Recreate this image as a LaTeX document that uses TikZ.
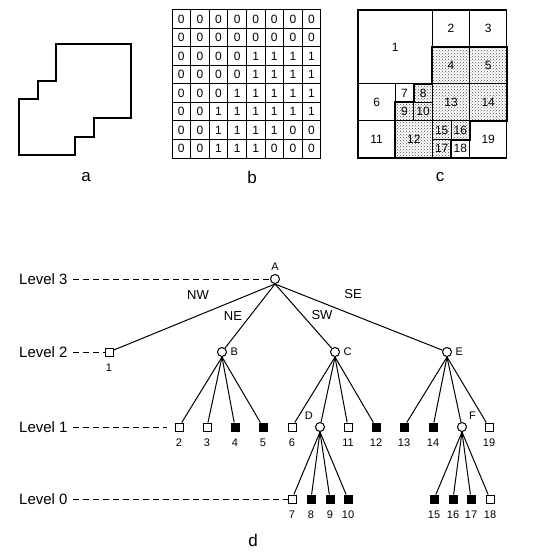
\documentclass[tikz,border=0pt]{standalone}
\usepackage{fontspec}
\setmainfont{Liberation Sans}
\usetikzlibrary{positioning,patterns}

\begin{document}
\begin{tikzpicture}[
    x=1pt, y=-1pt,
    every node/.style={font=\fontsize{11}{12}\selectfont},
    leaf/.style={draw, line width=1pt, minimum size=8pt, inner sep=0pt,
        label={[label distance=3.5pt]below:#1}},
    blackleaf/.style={leaf=#1, fill=black},
    inner/.style={draw, circle, line width=1pt, minimum size=9pt, inner sep=0pt},
    edge/.style={line width=1pt},
    levelline/.style={line width=0.9pt, dash pattern=on 6pt off 4pt, shorten <=5pt},
    levellabel/.style={anchor=west, inner sep=0pt, font=\fontsize{15}{16}\selectfont},
    dirlabel/.style={font=\fontsize{13}{14}\selectfont},
    caption/.style={font=\fontsize{17}{18}\selectfont},
    bit/.style={font=\fontsize{12}{12}\selectfont, inner sep=0pt},
    cnum/.style={font=\fontsize{12}{12}\selectfont, inner sep=1pt},
    shade/.style={pattern=crosshatch dots, pattern color=black!70},
    plain/.style={},
]
\useasboundingbox (0,0) rectangle (551,559);

% a: the region
\begin{scope}[shift={(-18.4pt,-7pt)}, x=18.7pt, y=-18.5pt]
\draw[line width=2pt] (4,2) -- (8,2) -- (8,6) -- (6,6) -- (6,7) -- (5,7) -- (5,8)
    -- (2,8) -- (2,5) -- (3,5) -- (3,4) -- (4,4) -- cycle;
\end{scope}
\node[caption] (capa) at (86,177) {a};

% b: binary array
\begin{scope}[shift={(172pt,-10pt)}, x=18.6pt, y=-18.5pt]
\foreach \i in {0,...,8} {
    \draw[line width=1pt] (\i,0) -- (\i,8);
    \draw[line width=1pt] (0,\i) -- (8,\i);
}
\foreach \r/\lo/\hi in {0/8/7, 1/8/7, 2/4/7, 3/4/7, 4/3/7, 5/2/7, 6/2/5, 7/2/4}
    \foreach \c in {0,...,7} {
        \pgfmathtruncatemacro\v{and(\c>=\lo,\c<=\hi)}
        \node[bit] (b-\r-\c) at (\c+0.5,\r+0.5) {\v};
    }
\end{scope}
\node[caption] (capb) at (252,177) {b};

% c: maximal blocks
\begin{scope}[shift={(358pt,-10pt)}, x=18.6pt, y=-18.5pt]
\foreach \n/\xa/\ya/\xb/\yb/\s in {1/0/0/4/4/plain, 2/4/0/6/2/plain, 3/6/0/8/2/plain,
        4/4/2/6/4/shade, 5/6/2/8/4/shade, 6/0/4/2/6/plain, 7/2/4/3/5/plain,
        8/3/4/4/5/shade, 9/2/5/3/6/shade, 10/3/5/4/6/shade, 11/0/6/2/8/plain,
        12/2/6/4/8/shade, 13/4/4/6/6/shade, 14/6/4/8/6/shade, 15/4/6/5/7/shade,
        16/5/6/6/7/shade, 17/4/7/5/8/shade, 18/5/7/6/8/plain, 19/6/6/8/8/plain} {
    \draw[line width=1pt, \s] (\xa,\ya) rectangle (\xb,\yb);
    \node[cnum] (c\n) at ({(\xa+\xb)/2},{(\ya+\yb)/2}) {\n};
}
\draw[line width=1.2pt] (0,0) rectangle (8,8);
\draw[line width=2pt] (4,2) -- (8,2) -- (8,6) -- (6,6) -- (6,7) -- (5,7) -- (5,8)
    -- (2,8) -- (2,5) -- (3,5) -- (3,4) -- (4,4) -- cycle;
\end{scope}
\node[caption] (capc) at (440,177) {c};

% d: quadtree
\node[inner, label=above:A] (A) at (275,279) {};

\node[leaf=1] (n1) at (109,352) {};
\node[inner, label=right:B] (B) at (222,352) {};
\node[inner, label=right:C] (C) at (335,352) {};
\node[inner, label=right:E] (E) at (447,352) {};

\node[leaf=2] (n2) at (179,427) {};
\node[leaf=3] (n3) at (207,427) {};
\node[blackleaf=4] (n4) at (235,427) {};
\node[blackleaf=5] (n5) at (263,427) {};
\node[leaf=6] (n6) at (292,427) {};
\node[inner, label=above left:D] (D) at (320,427) {};
\node[leaf=11] (n11) at (348,427) {};
\node[blackleaf=12] (n12) at (376,427) {};
\node[blackleaf=13] (n13) at (404,427) {};
\node[blackleaf=14] (n14) at (433,427) {};
\node[inner, label=above right:F] (F) at (462,427) {};
\node[leaf=19] (n19) at (489,427) {};

\node[leaf=7] (n7) at (292,499) {};
\node[blackleaf=8] (n8) at (311,499) {};
\node[blackleaf=9] (n9) at (330,499) {};
\node[blackleaf=10] (n10) at (348,499) {};
\node[blackleaf=15] (n15) at (434,499) {};
\node[blackleaf=16] (n16) at (453,499) {};
\node[blackleaf=17] (n17) at (471,499) {};
\node[leaf=18] (n18) at (490,499) {};

% edges
\foreach \k in {n1,B,C,E} \draw[edge] (A.south) -- (\k);
\foreach \k in {n2,n3,n4,n5} \draw[edge] (B.south) -- (\k);
\foreach \k in {n6,D,n11,n12} \draw[edge] (C.south) -- (\k);
\foreach \k in {n13,n14,F,n19} \draw[edge] (E.south) -- (\k);
\foreach \k in {n7,n8,n9,n10} \draw[edge] (D.south) -- (\k);
\foreach \k in {n15,n16,n17,n18} \draw[edge] (F.south) -- (\k);

\node[dirlabel] (nw) at (198,295) {NW};
\node[dirlabel] (ne) at (233,316) {NE};
\node[dirlabel] (sw) at (322,315) {SW};
\node[dirlabel] (se) at (353,294) {SE};

% levels
\node[levellabel] (lev3) at (19,279) {Level 3};
\node[levellabel] (lev2) at (19,352) {Level 2};
\node[levellabel] (lev1) at (19,427) {Level 1};
\node[levellabel] (lev0) at (19,499) {Level 0};
\draw[levelline] (lev3) -- (A);
\draw[levelline] (lev2) -- (n1);
\draw[levelline, shorten >=8pt] (lev1) -- (n2);
\draw[levelline] (lev0) -- (n7);

\node[caption] (capd) at (253,540) {d};
\end{tikzpicture}
\end{document}
